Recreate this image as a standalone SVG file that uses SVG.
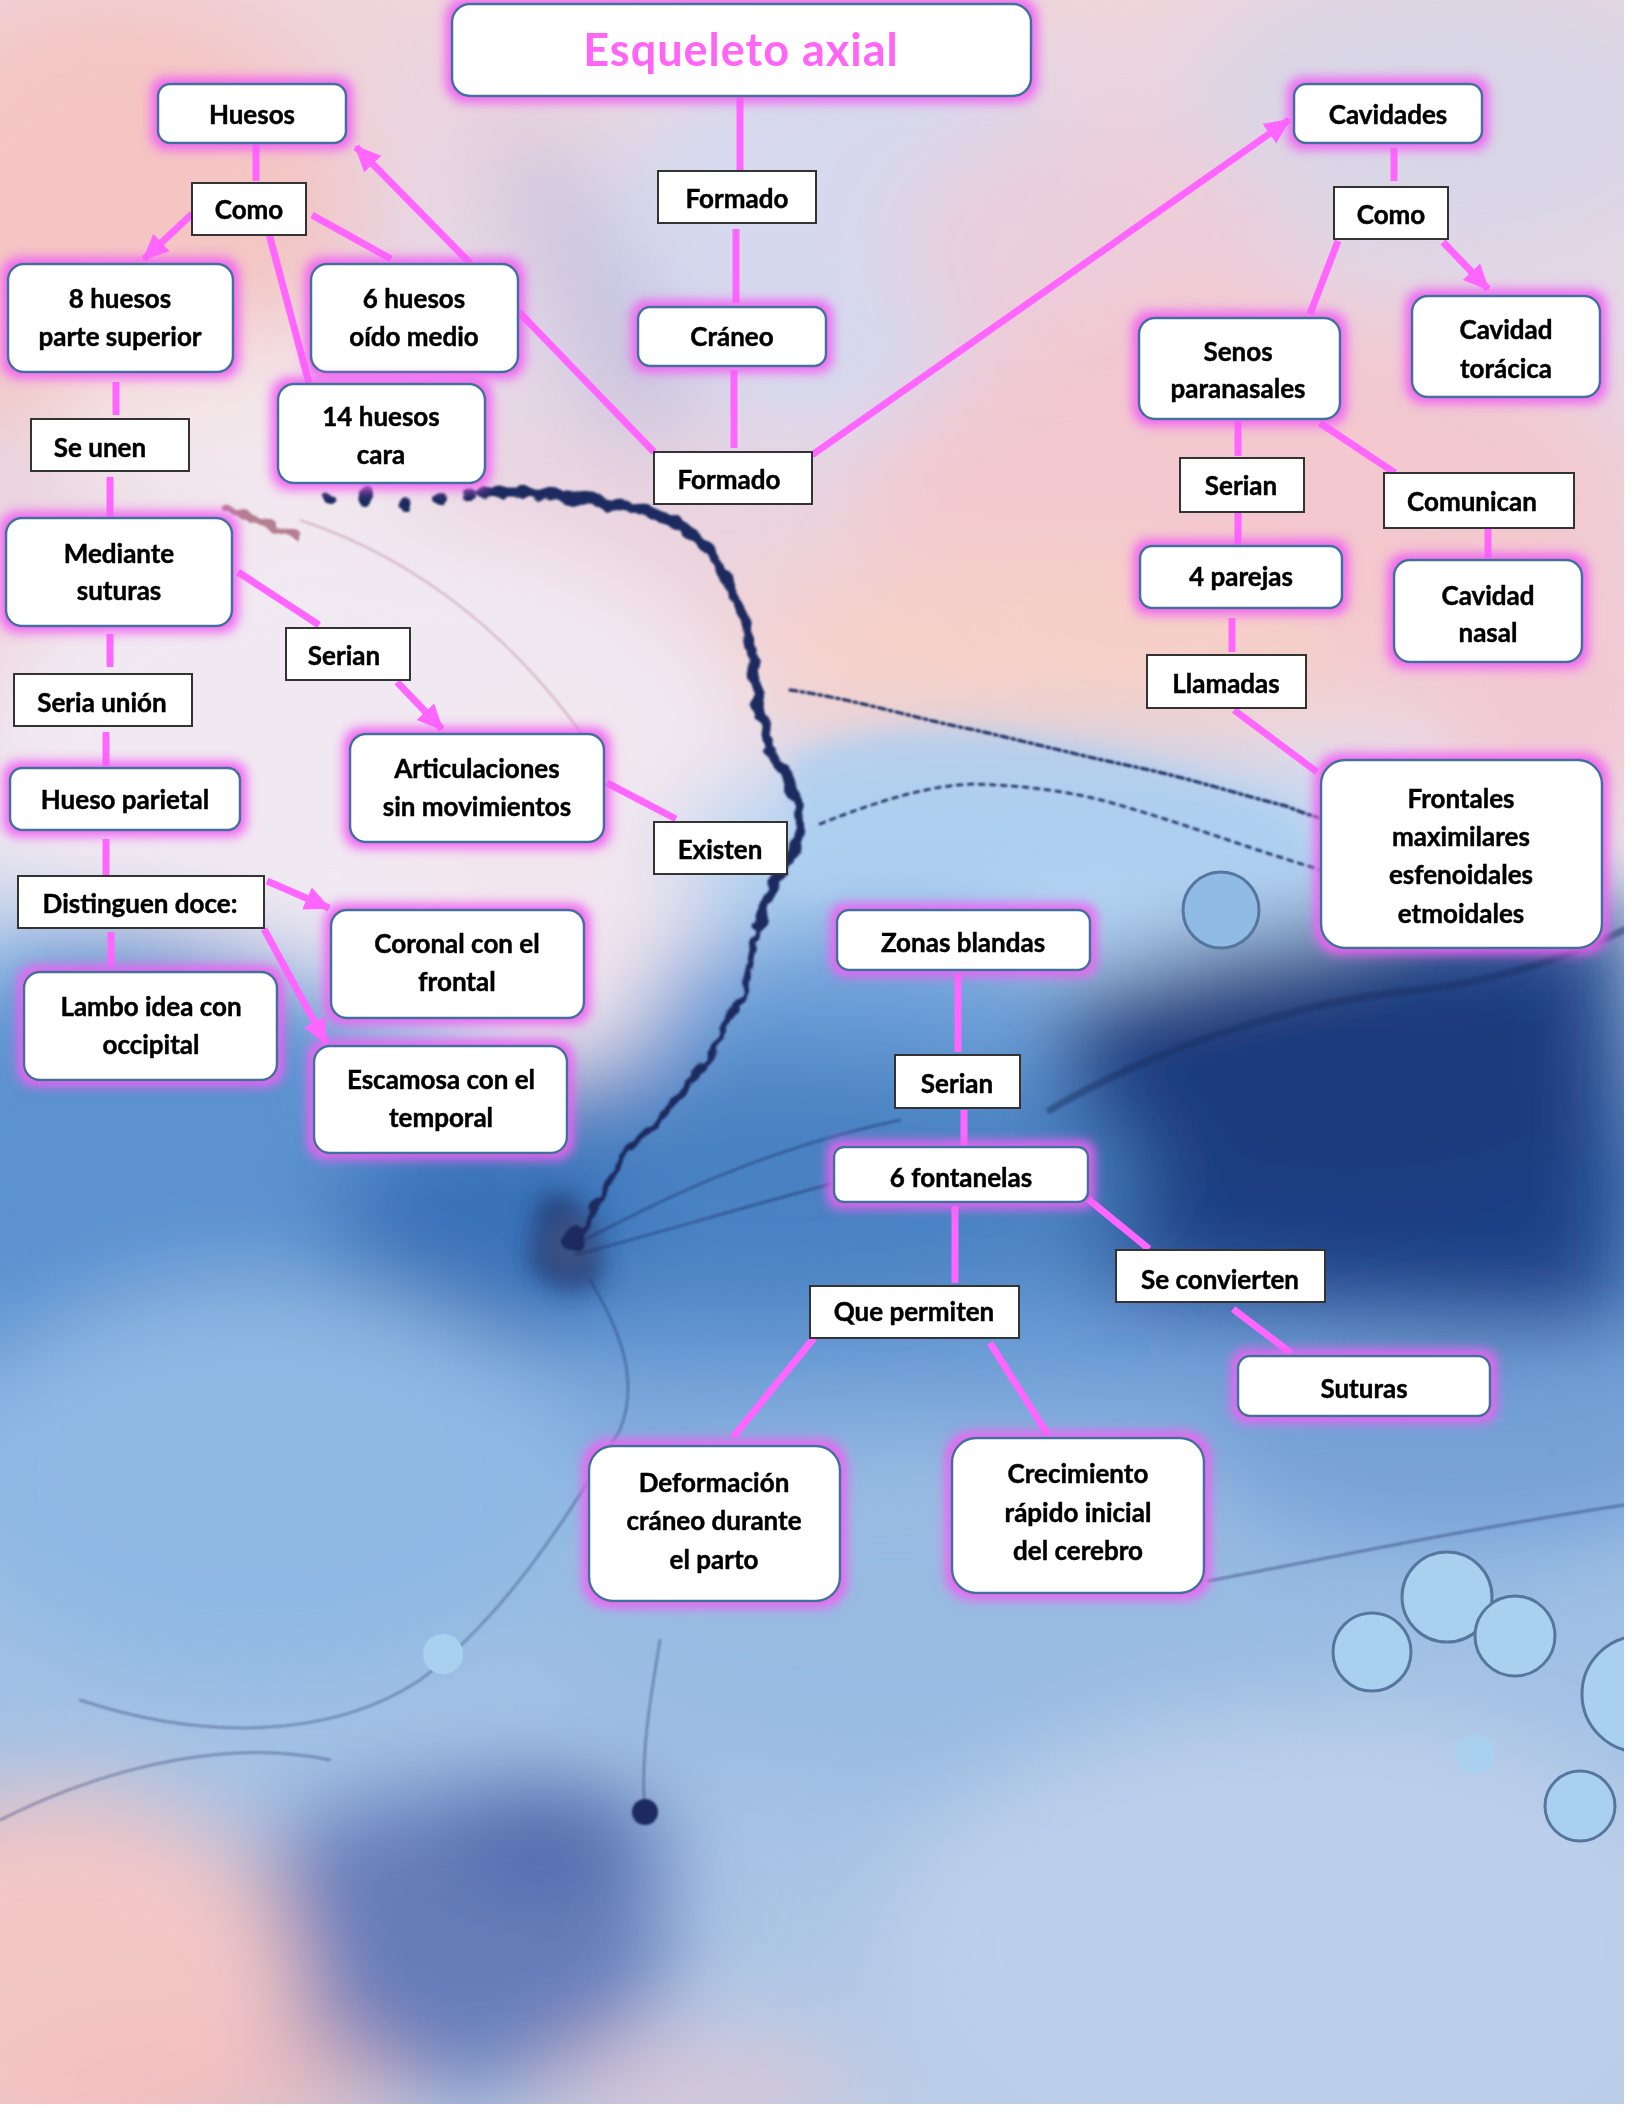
<svg xmlns="http://www.w3.org/2000/svg" width="1632" height="2112" viewBox="0 0 1632 2112">
<defs>
<style>
.t{font-family:Lato,"Liberation Sans",sans-serif;font-weight:700;font-size:26px;text-anchor:middle;fill:#000;stroke:#000;stroke-width:0.45}
.rn{fill:#fff;stroke:#41719c;stroke-width:2.5}
.sq{fill:#fff;stroke:#333;stroke-width:2}
.c{stroke:#ff66ff;stroke-width:7;fill:none;stroke-linecap:butt}
.ink{fill:none;stroke:#1b2a5e;stroke-linecap:round;stroke-linejoin:round}
</style>
<linearGradient id="bgg" x1="0" y1="0" x2="0" y2="1">
<stop offset="0" stop-color="#efd5dc"/>
<stop offset="0.16" stop-color="#e4d8e8"/>
<stop offset="0.30" stop-color="#efd2da"/>
<stop offset="0.40" stop-color="#e6e2ee"/>
<stop offset="0.47" stop-color="#a9c9ea"/>
<stop offset="0.56" stop-color="#5c91cf"/>
<stop offset="0.64" stop-color="#6d9dd6"/>
<stop offset="0.74" stop-color="#9ec0e5"/>
<stop offset="0.88" stop-color="#a8c3e5"/>
<stop offset="1" stop-color="#b9cce6"/>
</linearGradient>
<filter id="soft" x="-30%" y="-30%" width="160%" height="160%"><feGaussianBlur stdDeviation="45"/></filter>
<filter id="soft2" x="-30%" y="-30%" width="160%" height="160%"><feGaussianBlur stdDeviation="12"/></filter>
<filter id="rough" x="-5%" y="-5%" width="110%" height="110%">
<feTurbulence type="fractalNoise" baseFrequency="0.06" numOctaves="2" seed="4" result="n"/>
<feDisplacementMap in="SourceGraphic" in2="n" scale="12" xChannelSelector="R" yChannelSelector="G" result="dm"/>
<feGaussianBlur in="dm" stdDeviation="0.8"/>
</filter>
<filter id="inkb"><feGaussianBlur stdDeviation="1.2"/></filter>
<filter id="glow" x="-25%" y="-35%" width="150%" height="170%">
<feMorphology in="SourceAlpha" operator="dilate" radius="5" result="d"/>
<feGaussianBlur in="d" stdDeviation="6" result="b"/>
<feFlood flood-color="#f160f4" flood-opacity="1"/>
<feComposite in2="b" operator="in" result="g"/>
<feMerge><feMergeNode in="g"/><feMergeNode in="SourceGraphic"/></feMerge>
</filter>
<marker id="ah" markerUnits="userSpaceOnUse" markerWidth="28" markerHeight="26" refX="24" refY="13" orient="auto">
<path d="M0,1 L26,13 L0,25 z" fill="#ff66ff"/>
</marker>
</defs>

<rect width="1632" height="2112" fill="#fff"/>
<g id="background">
<rect x="0" y="0" width="1624" height="2104" fill="url(#bgg)"/>
<svg x="0" y="0" width="1624" height="2104" viewBox="0 0 1624 2104" overflow="hidden">
<g filter="url(#soft)">
<ellipse cx="110" cy="220" rx="250" ry="230" fill="#f6c2bd" opacity="0.85"/>
<ellipse cx="250" cy="430" rx="200" ry="100" fill="#f4ecf0" opacity="0.8"/>
<ellipse cx="860" cy="230" rx="260" ry="200" fill="#d2d9f0" opacity="0.8"/>
<ellipse cx="1450" cy="110" rx="260" ry="150" fill="#d6d6e8" opacity="0.9"/>
<ellipse cx="1100" cy="250" rx="200" ry="130" fill="#efcad6" opacity="0.8"/>
<path d="M520,120 C600,200 640,300 700,420 L620,440 C580,330 540,240 500,160 z" fill="#a8a8d0" opacity="0.6"/>
<ellipse cx="1250" cy="500" rx="380" ry="200" fill="#f5c5cb" opacity="0.85"/>
<ellipse cx="1050" cy="650" rx="300" ry="100" fill="#f6d0c8" opacity="0.9"/>
<ellipse cx="1560" cy="700" rx="120" ry="120" fill="#f2c8d2"/>
<ellipse cx="360" cy="740" rx="380" ry="220" fill="#f1e9f2"/>
<ellipse cx="560" cy="880" rx="160" ry="200" fill="#f2e6ee"/>
<ellipse cx="1030" cy="860" rx="360" ry="110" fill="#b2d3f2"/>
<ellipse cx="860" cy="1010" rx="220" ry="90" fill="#6c9fd8"/>
<path d="M1060,1000 C1250,900 1500,930 1624,900 L1624,1320 C1400,1330 1200,1300 1050,1260 z" fill="#1c4186"/>
<ellipse cx="1350" cy="1080" rx="260" ry="120" fill="#1a3a7c"/>
<ellipse cx="760" cy="1180" rx="380" ry="130" fill="#4a82c3"/>
<ellipse cx="140" cy="1160" rx="240" ry="230" fill="#5c92d0"/>
<ellipse cx="480" cy="1230" rx="150" ry="110" fill="#3b72b8"/>
<ellipse cx="260" cy="1480" rx="320" ry="200" fill="#8fb8e3"/>
<ellipse cx="960" cy="1620" rx="420" ry="160" fill="#98bbe2"/>
<ellipse cx="450" cy="1940" rx="220" ry="150" fill="#5a70b2" opacity="0.85"/>
<ellipse cx="560" cy="1830" rx="110" ry="50" fill="#3c5aa0" opacity="0.7"/>
<ellipse cx="60" cy="1990" rx="240" ry="200" fill="#f3c6c6"/>
<ellipse cx="200" cy="2090" rx="200" ry="60" fill="#f2bcbc" opacity="0.8"/>
<ellipse cx="700" cy="2090" rx="160" ry="50" fill="#eec3cf" opacity="0.6"/>
<ellipse cx="1300" cy="1950" rx="420" ry="240" fill="#bccfea"/>
<ellipse cx="1450" cy="1450" rx="250" ry="110" fill="#6f9bd4" opacity="0.7"/>
</g>
<g filter="url(#soft2)">
<path d="M790,760 C900,700 1100,730 1300,815 L1300,880 C1100,860 900,880 800,900 z" fill="#a9cdf0" opacity="0.7"/>
<ellipse cx="570" cy="1245" rx="22" ry="30" fill="#eef2fa" opacity="0.9"/>
<path d="M540,1200 C570,1180 610,1220 600,1280 C580,1300 540,1290 530,1260 z" fill="#15306a" opacity="0.8"/>
</g>
<g filter="url(#rough)">
<path class="ink" stroke-width="11" d="M481,493 C520,490 550,494 575,498 C600,502 620,505 628,507 C650,513 668,518 680,525 C700,540 715,555 722,569 C735,595 745,615 748,636 C754,660 757,685 758,703 C762,720 766,735 769,748 C780,765 790,780 795,792 C799,810 800,825 800,837 C795,855 782,870 774,882 C767,900 762,915 758,926"/>
<path class="ink" stroke-width="6" d="M758,926 C752,950 748,975 743,993 C730,1020 718,1042 706,1060 C680,1100 655,1125 628,1150 C610,1180 595,1210 579,1239"/>
<g fill="#1b2a5e">
<circle cx="330" cy="500" r="7"/><circle cx="365" cy="496" r="9"/><circle cx="405" cy="504" r="6"/><circle cx="440" cy="498" r="8"/><circle cx="470" cy="496" r="6"/>
<circle cx="575" cy="1240" r="12"/>
</g>
<path d="M225,508 C255,518 275,530 300,536" stroke="#b47e90" stroke-width="7" fill="none"/>
</g>
<g filter="url(#inkb)">
<path class="ink" stroke-width="3" stroke-dasharray="7 4 3 4" d="M790,690 C860,700 920,720 975,730 C1040,745 1090,758 1131,766 C1190,778 1240,795 1286,806 C1300,812 1310,815 1320,818"/>
<path class="ink" stroke-width="2.5" stroke-dasharray="5 6" d="M820,824 C880,800 930,785 975,784 C1030,786 1070,792 1105,801 C1180,822 1240,845 1286,859 C1300,864 1310,866 1320,870"/>
<path d="M300,520 C420,560 520,640 600,760" stroke="#c9a0b0" stroke-width="2" fill="none" opacity="0.7"/>
<path class="ink" stroke-width="2" opacity="0.55" d="M575,1245 C660,1200 760,1150 900,1120 M575,1255 C670,1230 800,1190 960,1150 M1208,1581 C1320,1560 1460,1530 1624,1505"/>
<path class="ink" stroke-width="2" opacity="0.45" d="M590,1280 C620,1330 640,1380 620,1430 C560,1530 500,1620 420,1680 C330,1740 200,1740 80,1700 M660,1640 C650,1700 640,1760 645,1810 M0,1820 C120,1760 240,1740 330,1760"/>
<path class="ink" stroke-width="7" d="M1050,1110 C1150,1050 1300,1000 1420,990 C1500,980 1560,960 1624,930" opacity="0.45"/>
<circle cx="645" cy="1812" r="13" fill="#1b2a5e"/>
</g>
<g stroke="#56769e" stroke-width="3" fill="#a9d0ef">
<circle cx="1221" cy="910" r="38" fill="#8fbbe4"/>
<circle cx="1447" cy="1597" r="45"/>
<circle cx="1515" cy="1636" r="40"/>
<circle cx="1372" cy="1652" r="39"/>
<circle cx="1475" cy="1754" r="20" stroke="none"/>
<circle cx="1580" cy="1806" r="35"/>
<circle cx="1640" cy="1694" r="58"/>
<circle cx="443" cy="1654" r="20" stroke="none"/>
</g>
</svg>
</g>

<g id="connectors">
<line class="c" x1="740" y1="96" x2="740" y2="171"/>
<line class="c" x1="736" y1="229" x2="736" y2="303"/>
<line class="c" x1="734" y1="370" x2="734" y2="448"/>
<line class="c" x1="812" y1="455" x2="1289" y2="120" marker-end="url(#ah)"/>
<line class="c" x1="519" y1="312" x2="654" y2="452"/>
<line class="c" x1="256" y1="143" x2="256" y2="181"/>
<line class="c" x1="192" y1="214" x2="144" y2="259" marker-end="url(#ah)"/>
<line class="c" x1="312" y1="215" x2="391" y2="259"/>
<line class="c" x1="269" y1="234" x2="309" y2="383"/>
<line class="c" x1="471" y1="264" x2="356" y2="147" marker-end="url(#ah)"/>
<line class="c" x1="116" y1="382" x2="116" y2="415"/>
<line class="c" x1="110" y1="477" x2="110" y2="518"/>
<line class="c" x1="238" y1="572" x2="319" y2="625"/>
<line class="c" x1="397" y1="682" x2="442" y2="729" marker-end="url(#ah)"/>
<line class="c" x1="607" y1="783" x2="676" y2="819"/>
<line class="c" x1="110" y1="634" x2="110" y2="667"/>
<line class="c" x1="106" y1="732" x2="106" y2="766"/>
<line class="c" x1="106" y1="839" x2="106" y2="875"/>
<line class="c" x1="267" y1="881" x2="329" y2="908" marker-end="url(#ah)"/>
<line class="c" x1="264" y1="929" x2="326" y2="1043" marker-end="url(#ah)"/>
<line class="c" x1="111" y1="932" x2="111" y2="966"/>
<line class="c" x1="1394" y1="148" x2="1394" y2="181"/>
<line class="c" x1="1338" y1="241" x2="1310" y2="314"/>
<line class="c" x1="1443" y1="242" x2="1488" y2="289" marker-end="url(#ah)"/>
<line class="c" x1="1238" y1="421" x2="1238" y2="456"/>
<line class="c" x1="1320" y1="423" x2="1395" y2="473"/>
<line class="c" x1="1238" y1="512" x2="1238" y2="545"/>
<line class="c" x1="1232" y1="618" x2="1232" y2="652"/>
<line class="c" x1="1234" y1="710" x2="1317" y2="772"/>
<line class="c" x1="1488" y1="529" x2="1488" y2="558"/>
<line class="c" x1="958" y1="974" x2="958" y2="1052"/>
<line class="c" x1="964" y1="1110" x2="964" y2="1146"/>
<line class="c" x1="955" y1="1206" x2="955" y2="1283"/>
<line class="c" x1="1088" y1="1199" x2="1149" y2="1249"/>
<line class="c" x1="1233" y1="1309" x2="1291" y2="1353"/>
<line class="c" x1="814" y1="1338" x2="733" y2="1437"/>
<line class="c" x1="990" y1="1343" x2="1048" y2="1435"/>
</g>

<g id="n-title"><rect class="rn" x="452" y="4" width="579" height="92" rx="18" filter="url(#glow)"/>
<text x="741" y="66" style="font-family:Lato,'Liberation Sans',sans-serif;font-size:45px;font-weight:700;text-anchor:middle;fill:#ff66f6;letter-spacing:1px">Esqueleto axial</text></g>
<g id="n-huesos"><rect class="rn" x="158" y="84" width="188" height="59" rx="12" filter="url(#glow)"/><text class="t" x="252" y="124">Huesos</text></g>
<g id="n-como1"><rect class="sq" x="192" y="183" width="114" height="52"/><text class="t" x="249" y="219">Como</text></g>
<g id="n-8huesos"><rect class="rn" x="8" y="264" width="225" height="108" rx="16" filter="url(#glow)"/><text class="t" x="120" y="308">8 huesos</text><text class="t" x="120" y="346">parte superior</text></g>
<g id="n-6huesos"><rect class="rn" x="311" y="264" width="207" height="108" rx="16" filter="url(#glow)"/><text class="t" x="414" y="308">6 huesos</text><text class="t" x="414" y="346">oído medio</text></g>
<g id="n-14huesos"><rect class="rn" x="278" y="384" width="207" height="99" rx="16" filter="url(#glow)"/><text class="t" x="381" y="426">14 huesos</text><text class="t" x="381" y="464">cara</text></g>
<g id="n-formado1"><rect class="sq" x="658" y="171" width="158" height="52"/><text class="t" x="737" y="208">Formado</text></g>
<g id="n-craneo"><rect class="rn" x="638" y="307" width="188" height="59" rx="12" filter="url(#glow)"/><text class="t" x="732" y="346">Cráneo</text></g>
<g id="n-formado2"><rect class="sq" x="654" y="452" width="158" height="52"/><text class="t" x="729" y="489">Formado</text></g>
<g id="n-cavidades"><rect class="rn" x="1294" y="84" width="188" height="59" rx="12" filter="url(#glow)"/><text class="t" x="1388" y="124">Cavidades</text></g>
<g id="n-como2"><rect class="sq" x="1334" y="187" width="114" height="52"/><text class="t" x="1391" y="224">Como</text></g>
<g id="n-senos"><rect class="rn" x="1139" y="318" width="201" height="101" rx="16" filter="url(#glow)"/><text class="t" x="1238" y="361">Senos</text><text class="t" x="1238" y="398">paranasales</text></g>
<g id="n-toracica"><rect class="rn" x="1412" y="296" width="188" height="101" rx="16" filter="url(#glow)"/><text class="t" x="1506" y="339">Cavidad</text><text class="t" x="1506" y="378">torácica</text></g>
<g id="n-serian1"><rect class="sq" x="1180" y="458" width="124" height="54"/><text class="t" x="1241" y="495">Serian</text></g>
<g id="n-comunican"><rect class="sq" x="1384" y="473" width="190" height="55"/><text class="t" x="1472" y="511">Comunican</text></g>
<g id="n-4parejas"><rect class="rn" x="1140" y="546" width="202" height="62" rx="12" filter="url(#glow)"/><text class="t" x="1241" y="586">4 parejas</text></g>
<g id="n-nasal"><rect class="rn" x="1394" y="560" width="188" height="102" rx="16" filter="url(#glow)"/><text class="t" x="1488" y="605">Cavidad</text><text class="t" x="1488" y="642">nasal</text></g>
<g id="n-llamadas"><rect class="sq" x="1147" y="655" width="159" height="53"/><text class="t" x="1226" y="693">Llamadas</text></g>
<g id="n-frontales"><rect class="rn" x="1321" y="760" width="281" height="188" rx="24" filter="url(#glow)"/><text class="t" x="1461" y="808">Frontales</text><text class="t" x="1461" y="846">maximilares</text><text class="t" x="1461" y="884">esfenoidales</text><text class="t" x="1461" y="923">etmoidales</text></g>
<g id="n-seunen"><rect class="sq" x="31" y="419" width="158" height="52"/><text class="t" x="100" y="457">Se unen</text></g>
<g id="n-mediante"><rect class="rn" x="6" y="518" width="226" height="108" rx="16" filter="url(#glow)"/><text class="t" x="119" y="563">Mediante</text><text class="t" x="119" y="600">suturas</text></g>
<g id="n-serian2"><rect class="sq" x="286" y="628" width="124" height="52"/><text class="t" x="344" y="665">Serian</text></g>
<g id="n-articulaciones"><rect class="rn" x="350" y="734" width="254" height="108" rx="16" filter="url(#glow)"/><text class="t" x="477" y="778">Articulaciones</text><text class="t" x="477" y="816">sin movimientos</text></g>
<g id="n-existen"><rect class="sq" x="654" y="822" width="133" height="52"/><text class="t" x="720" y="859">Existen</text></g>
<g id="n-seriaunion"><rect class="sq" x="14" y="674" width="178" height="52"/><text class="t" x="102" y="712">Seria unión</text></g>
<g id="n-parietal"><rect class="rn" x="10" y="768" width="230" height="62" rx="12" filter="url(#glow)"/><text class="t" x="125" y="809">Hueso parietal</text></g>
<g id="n-distinguen"><rect class="sq" x="18" y="876" width="246" height="52"/><text class="t" x="140" y="913">Distinguen doce:</text></g>
<g id="n-lambo"><rect class="rn" x="24" y="972" width="253" height="108" rx="16" filter="url(#glow)"/><text class="t" x="151" y="1016">Lambo idea con</text><text class="t" x="151" y="1054">occipital</text></g>
<g id="n-coronal"><rect class="rn" x="331" y="910" width="253" height="108" rx="16" filter="url(#glow)"/><text class="t" x="457" y="953">Coronal con el</text><text class="t" x="457" y="991">frontal</text></g>
<g id="n-escamosa"><rect class="rn" x="314" y="1046" width="253" height="107" rx="16" filter="url(#glow)"/><text class="t" x="441" y="1089">Escamosa con el</text><text class="t" x="441" y="1127">temporal</text></g>
<g id="n-zonas"><rect class="rn" x="837" y="910" width="253" height="60" rx="12" filter="url(#glow)"/><text class="t" x="963" y="952">Zonas blandas</text></g>
<g id="n-serian3"><rect class="sq" x="895" y="1055" width="125" height="53"/><text class="t" x="957" y="1093">Serian</text></g>
<g id="n-fontanelas"><rect class="rn" x="834" y="1147" width="254" height="55" rx="10" filter="url(#glow)"/><text class="t" x="961" y="1187">6 fontanelas</text></g>
<g id="n-quepermiten"><rect class="sq" x="810" y="1286" width="209" height="52"/><text class="t" x="914" y="1321">Que permiten</text></g>
<g id="n-seconvierten"><rect class="sq" x="1116" y="1250" width="209" height="52"/><text class="t" x="1220" y="1289">Se convierten</text></g>
<g id="n-suturas"><rect class="rn" x="1238" y="1356" width="252" height="60" rx="12" filter="url(#glow)"/><text class="t" x="1364" y="1398">Suturas</text></g>
<g id="n-deformacion"><rect class="rn" x="589" y="1446" width="251" height="155" rx="24" filter="url(#glow)"/><text class="t" x="714" y="1492">Deformación</text><text class="t" x="714" y="1530">cráneo durante</text><text class="t" x="714" y="1569">el parto</text></g>
<g id="n-crecimiento"><rect class="rn" x="952" y="1438" width="252" height="155" rx="24" filter="url(#glow)"/><text class="t" x="1078" y="1483">Crecimiento</text><text class="t" x="1078" y="1522">rápido inicial</text><text class="t" x="1078" y="1560">del cerebro</text></g>
</svg>
